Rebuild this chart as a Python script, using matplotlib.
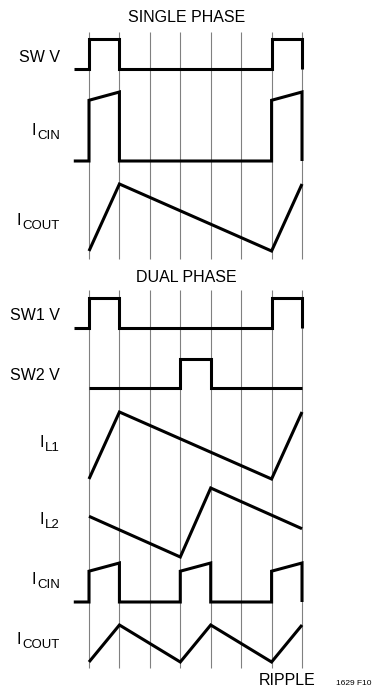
import numpy as np
import matplotlib.pyplot as plt
from matplotlib import font_manager

names = {f.name for f in font_manager.fontManager.ttflist}
fam = 'Liberation Sans Narrow' if 'Liberation Sans Narrow' in names else 'Liberation Sans'
plt.rcParams['font.family'] = [fam, 'DejaVu Sans']

# time in switching-grid divisions, level normalized 0..1
sw_t = [-0.5, 0, 0, 1, 1, 6, 6, 7, 7]
sw_v = [0, 0, 1, 1, 0, 0, 1, 1, 0]
cin1_t = [-0.5, 0, 0, 1, 1, 6, 6, 7, 7]
cin1_v = [0, 0, 0.88, 1, 0, 0, 0.88, 1, 0]
cout1_t = [0, 1, 6, 7]
cout1_v = [0, 1, 0, 1]
sw2_t = [0, 3, 3, 4, 4, 7]
sw2_v = [0, 0, 1, 1, 0, 0]
il1_t = [0, 1, 6, 7]
il1_v = [0, 1, 0, 1]
il2_t = [0, 3, 4, 7]
il2_v = [0.59, 0, 1, 0.41]
cin2_t = [-0.5, 0, 0, 1, 1, 3, 3, 4, 4, 6, 6, 7, 7]
cin2_v = [0, 0, 0.79, 1, 0, 0, 0.79, 1, 0, 0, 0.79, 1, 0]
cout2_t = [0, 1, 3, 4, 6, 7]
cout2_v = [0, 1, 0, 1, 0, 1]

# trace: (label, subscript, t, v, baseline px, amplitude px, label y px)
traces = [
    ("SW V", "", sw_t, sw_v, 69, 30, 58),
    ("I", "CIN", cin1_t, cin1_v, 161, 69, 129),
    ("I", "COUT", cout1_t, cout1_v, 251, 67, 219),
    ("SW1 V", "", sw_t, sw_v, 328, 30, 315),
    ("SW2 V", "", sw2_t, sw2_v, 388, 29, 376),
    ("I", "L1", il1_t, il1_v, 479, 67, 441),
    ("I", "L2", il2_t, il2_v, 557, 69, 518),
    ("I", "CIN", cin2_t, cin2_v, 602, 39, 578),
    ("I", "COUT", cout2_t, cout2_v, 662, 37, 638),
]

W, H = 375, 689
x0, dx = 89, 30.43

fig = plt.figure(figsize=(W / 100, H / 100), dpi=100)
ax = fig.add_axes([0, 0, 1, 1])
ax.set_xlim(-x0 / dx, (W - x0) / dx)
ax.set_ylim(H, 0)
ax.axis('off')
r = fig.canvas.get_renderer()

def px(x):
    return (x - x0) / dx

grid = np.arange(8)
ax.vlines(grid, 32, 259, color='#808080', lw=0.8)
ax.vlines(grid, 290, 668, color='#808080', lw=0.8)

for lab, sub, t, v, base, amp, ly in traces:
    y = base - amp * np.array(v)
    ax.plot(t, y, color='black', lw=2.2, solid_joinstyle='miter', solid_capstyle='butt')
    if sub:
        s = ax.text(px(60), ly + 10, sub, ha='right', va='baseline', fontsize=9.5)
        left = s.get_window_extent(r).x0
        ax.text(px(left - 1.5), ly + 6, lab, ha='right', va='baseline', fontsize=11.5)
    else:
        ax.text(px(60), ly, lab, ha='right', va='center', fontsize=11.5)

ax.text(3.2, 17, "SINGLE PHASE", ha='center', va='center', fontsize=11.5)
ax.text(3.2, 277, "DUAL PHASE", ha='center', va='center', fontsize=11.5)
ax.text(px(287), 685, "RIPPLE", ha='center', va='baseline', fontsize=11.5)
ax.text(px(354), 685, "1629 F10", ha='center', va='baseline', fontsize=6)

fig.savefig("out.png", dpi=100)
